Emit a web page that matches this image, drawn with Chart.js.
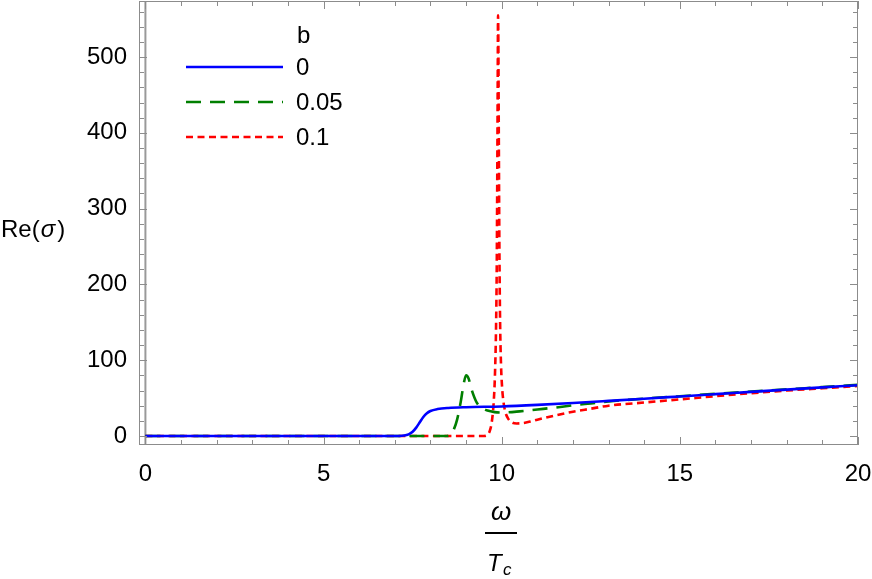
<!DOCTYPE html>
<html>
<head>
<meta charset="utf-8">
<script src="https://cdn.jsdelivr.net/npm/chart.js@4.4.1/dist/chart.umd.min.js"></script>
<style>
  html,body{margin:0;padding:0;background:#fff;}
  #wrap{width:872px;height:579px;position:relative;}
</style>
</head>
<body>
<div id="wrap"><canvas id="c"></canvas></div>
<script>
/* Re(sigma) vs omega/Tc, three values of b */
var seriesNames = ['0', '0.05', '0.1'];

// b = 0
var xB0 = [0, 7.0, 7.2, 7.3, 7.4, 7.5, 7.6, 7.7, 7.8, 7.9, 8.0, 8.2, 8.5, 9.0, 10, 11, 12, 13, 14, 15, 16, 17, 18, 19, 20];
var yB0 = [0, 0, 0.3, 1, 2.5, 5.5, 11, 18, 25, 30, 33, 35.5, 37, 38, 39, 41, 43.5, 46.3, 49.2, 52.2, 55.2, 58.2, 61.2, 64.1, 67];

// b = 0.05
var xB1 = [0, 8.45, 8.55, 8.65, 8.75, 8.85, 8.93, 9.0, 9.07, 9.15, 9.3, 9.45, 9.6, 9.8, 10.0, 10.5, 11, 11.5, 12, 12.5, 13, 14, 15, 16, 17, 18, 19, 20];
var yB1 = [0, 0, 1, 8, 22, 45, 68, 80, 76, 62, 44, 37, 33.5, 31.5, 31, 32.5, 35, 37.5, 40.5, 43, 45.5, 49.3, 52.5, 55.6, 58.6, 61.6, 64.5, 67.5];

// b = 0.1
var xB2 = [0, 9.5, 9.6, 9.66, 9.71, 9.75, 9.78, 9.81, 9.84, 9.86, 9.875, 9.888, 9.897, 9.906, 9.918, 9.935, 9.955, 9.98, 10.01, 10.05, 10.1, 10.18, 10.28, 10.42, 10.6, 10.8, 11, 11.5, 12, 12.5, 13, 14, 15, 16, 17, 18, 19, 20];
var yB2 = [0, 0, 1.5, 6, 15, 30, 48, 80, 140, 220, 340, 470, 555, 520, 400, 250, 150, 95, 65, 45, 32, 23, 18, 16.5, 17, 19, 21.5, 27, 32, 36, 40, 44.2, 48.3, 52.5, 56.5, 60, 63, 66];

var xTicks = [0, 5, 10, 15, 20];
var yTicks = [0, 100, 200, 300, 400, 500];
var xMinor = [1, 2, 3, 4, 6, 7, 8, 9, 11, 12, 13, 14, 16, 17, 18, 19];
var yMinor = [20, 40, 60, 80, 120, 140, 160, 180, 220, 240, 260, 280, 320, 340, 360, 380, 420, 440, 460, 480, 520, 540, 560];

function pts(xs, ys){ return xs.map(function(x,i){ return {x:x, y:ys[i]}; }); }

var FAM = '"Liberation Sans", Arial, sans-serif';
var FONT = '24px ' + FAM;
var GRAY = '#8c8c8c';

function noPad(s){ s.paddingTop = 0; s.paddingBottom = 0; s.paddingLeft = 0; s.paddingRight = 0; }

var framePlugin = {
  id: 'frame',
  beforeDatasetsDraw: function(chart){
    var ctx = chart.ctx, a = chart.chartArea, xs = chart.scales.x;
    var x0 = xs.getPixelForValue(0);
    ctx.save();
    ctx.strokeStyle = '#999';
    ctx.lineWidth = 2;
    ctx.beginPath(); ctx.moveTo(x0, a.top); ctx.lineTo(x0, a.bottom); ctx.stroke();
    ctx.restore();
  },
  afterDatasetsDraw: function(chart){
    var ctx = chart.ctx, a = chart.chartArea, xs = chart.scales.x, ys = chart.scales.y;
    ctx.save();
    ctx.strokeStyle = GRAY;
    ctx.lineWidth = 1;
    ctx.strokeRect(a.left + 0.5, a.top + 0.5, a.right - a.left - 1, a.bottom - a.top - 1);
    ctx.beginPath();
    function xt(v, len){
      var p = Math.round(xs.getPixelForValue(v)) + 0.5;
      ctx.moveTo(p, a.bottom); ctx.lineTo(p, a.bottom - len);
      ctx.moveTo(p, a.top); ctx.lineTo(p, a.top + len);
    }
    function yt(v, len){
      var p = Math.round(ys.getPixelForValue(v)) + 0.5;
      ctx.moveTo(a.left, p); ctx.lineTo(a.left + len, p);
      ctx.moveTo(a.right, p); ctx.lineTo(a.right - len, p);
    }
    xTicks.forEach(function(v){ xt(v, 8); });
    xMinor.forEach(function(v){ xt(v, 5); });
    yTicks.forEach(function(v){ yt(v, 8); });
    yMinor.forEach(function(v){ yt(v, 5); });
    ctx.stroke();
    ctx.restore();
  },
  afterDraw: function(chart){
    var ctx = chart.ctx;
    ctx.save();
    ctx.fillStyle = '#000';
    ctx.textBaseline = 'alphabetic';
    // y title
    ctx.font = FONT;
    ctx.textAlign = 'left';
    var x = 1, y = 237;
    ctx.fillText('Re(', x, y); x += ctx.measureText('Re(').width + 1;
    ctx.font = 'italic ' + FONT;
    ctx.fillText('\u03c3', x, y); x += ctx.measureText('\u03c3').width + 2;
    ctx.font = FONT;
    ctx.fillText(')', x, y);
    // x title: omega / T_c
    var cx = 501;
    ctx.textAlign = 'center';
    ctx.font = 'italic 26px ' + FAM;
    ctx.fillText('\u03c9', cx, 520);
    ctx.fillRect(485, 532, 32, 2);
    ctx.font = 'italic 24px ' + FAM;
    ctx.textAlign = 'left';
    ctx.fillText('T', 487, 571);
    ctx.font = 'italic 17px ' + FAM;
    ctx.fillText('c', 503, 575);
    // legend
    ctx.font = FONT;
    ctx.fillText('b', 297, 43);
    var rows = [67, 102, 137];
    chart.data.datasets.forEach(function(ds, i){
      ctx.save();
      ctx.strokeStyle = ds.borderColor;
      ctx.lineWidth = ds.borderWidth;
      ctx.setLineDash(ds.borderDash || []);
      ctx.beginPath(); ctx.moveTo(186, rows[i]); ctx.lineTo(283, rows[i]); ctx.stroke();
      ctx.restore();
      ctx.textBaseline = 'middle';
      ctx.fillText(seriesNames[i], 296, rows[i] + 1);
    });
    ctx.restore();
  }
};

new Chart(document.getElementById('c'), {
  type: 'line',
  data: {
    datasets: [
      {label: seriesNames[0], data: pts(xB0, yB0), borderColor: '#0000ff', borderWidth: 2.6, pointRadius: 0, cubicInterpolationMode: 'monotone', fill: false},
      {label: seriesNames[1], data: pts(xB1, yB1), borderColor: '#007f00', borderWidth: 2.6, borderDash: [15, 9], pointRadius: 0, cubicInterpolationMode: 'monotone', fill: false},
      {label: seriesNames[2], data: pts(xB2, yB2), borderColor: '#ff0000', borderWidth: 2.6, borderDash: [7, 4.5], pointRadius: 0, cubicInterpolationMode: 'monotone', fill: false}
    ]
  },
  options: {
    responsive: true, maintainAspectRatio: false, animation: false,
    layout: {padding: {left: 0, right: 14, top: 1, bottom: 0}},
    plugins: {legend: {display: false}, tooltip: {enabled: false}},
    scales: {
      x: {
        type: 'linear', min: -0.18, max: 20,
        grid: {display: false}, border: {display: false},
        afterBuildTicks: function(s){ s.ticks = xTicks.map(function(v){ return {value: v}; }); },
        afterFit: function(s){ s.height = 134; noPad(s); },
        ticks: {padding: 7, color: '#000', font: {family: FAM, size: 24}, maxRotation: 0}
      },
      y: {
        type: 'linear', min: -11.9, max: 574,
        grid: {display: false}, border: {display: false},
        afterBuildTicks: function(s){ s.ticks = yTicks.map(function(v){ return {value: v}; }); },
        afterFit: function(s){ s.width = 139; noPad(s); },
        ticks: {padding: 4, color: '#000', font: {family: FAM, size: 24}}
      }
    }
  },
  plugins: [framePlugin]
});
</script>
</body>
</html>
